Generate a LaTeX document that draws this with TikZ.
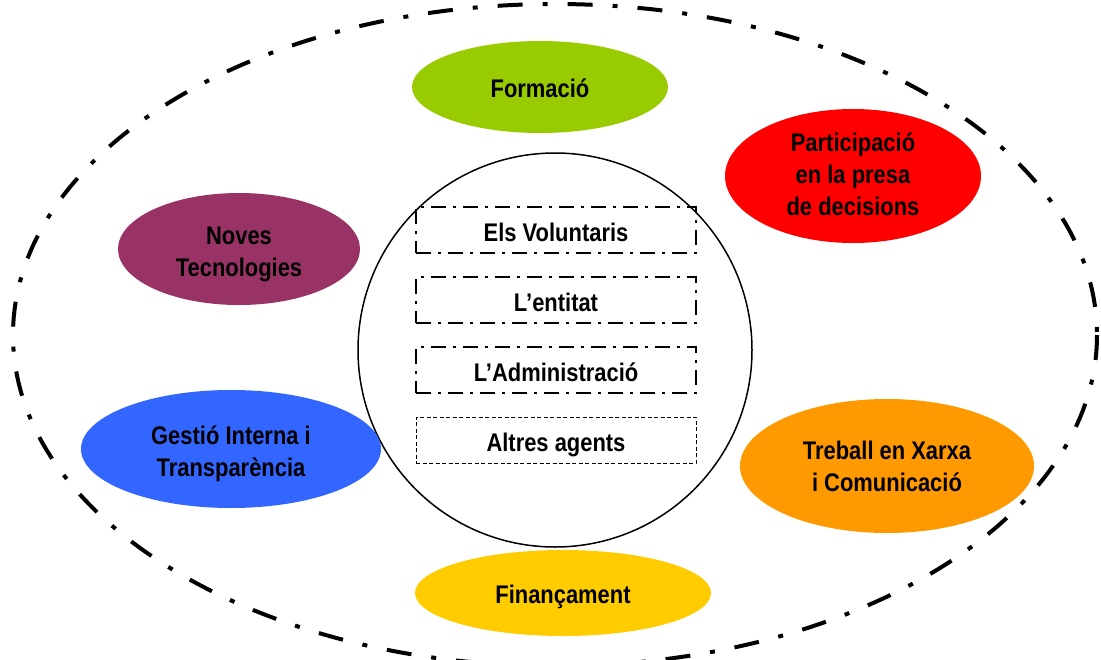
\documentclass[tikz,border=0pt]{standalone}
\usepackage{fontspec}
\setmainfont{Liberation Sans}[FakeStretch=0.86]
\begin{document}
\begin{tikzpicture}[x=1pt,y=-1pt,
  lbl/.style={font=\bfseries\fontsize{25.5}{32}\selectfont, align=center, text=black},
  blob/.style={draw=none, lbl, yshift=-3pt},
  agent/.style={draw=black, line width=2.6pt, dash pattern=on 15pt off 7pt on 3pt off 7pt, minimum width=280pt, minimum height=46pt, inner sep=0pt, text height=22pt, text depth=0pt, lbl},
  agentthin/.style={agent, line width=0.8pt, dash pattern=on 4pt off 2.5pt}]
\useasboundingbox (0,0) rectangle (1101,659);
\definecolor{cgreen}{HTML}{99CC00}
\definecolor{cred}{HTML}{FF0000}
\definecolor{cmaroon}{HTML}{993366}
\definecolor{cblue}{HTML}{3366FF}
\definecolor{corange}{HTML}{FF9900}
\definecolor{cyellow}{HTML}{FFCC00}
% outer ellipse
\draw[line width=4pt, dash pattern=on 25pt off 20pt on 5pt off 20pt] (555,335) ellipse [x radius=542, y radius=331];
% inner circle
\draw[line width=1.5pt] (555,350) circle [radius=197];
% coloured ellipses
\fill[cgreen] (540,87) ellipse [x radius=128, y radius=46];
\node[blob] (form) at (540,85) {Formació};
\fill[cred] (853,176) ellipse [x radius=128, y radius=67];
\node[blob] (part) at (853,171) {Participació\\en la presa\\de decisions};
\fill[cmaroon] (239,249) ellipse [x radius=121, y radius=56];
\node[blob] (noves) at (239,251) {Noves\\Tecnologies};
\fill[cblue] (231,449) ellipse [x radius=150, y radius=59];
\node[blob] (gest) at (231,451) {Gestió Interna i\\Transparència};
\fill[cyellow] (563,593) ellipse [x radius=148, y radius=43];
\node[blob] (fin) at (563,594) {Finançament};
\fill[corange] (887,466) ellipse [x radius=147, y radius=67];
\node[blob] (treb) at (887,463) {Treball en Xarxa\\i Comunicació};
% agents
\node[agent] (vol) at (556,230) {Els Voluntaris};
\node[agent] (ent) at (556,300) {L’entitat};
\node[agent] (adm) at (556,370) {L’Administració};
\node[agentthin] (alt) at (556,440) {Altres agents};
\end{tikzpicture}
\end{document}
